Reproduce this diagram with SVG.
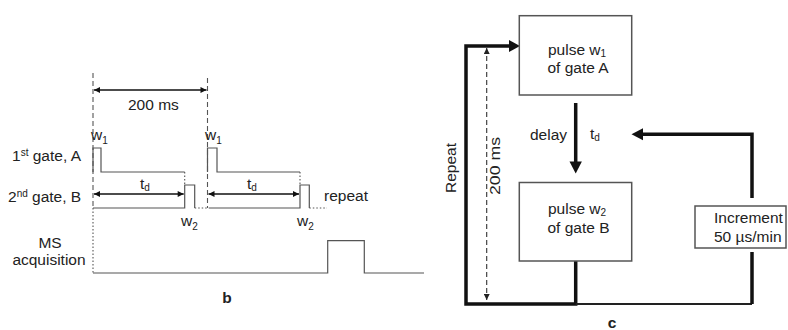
<svg xmlns="http://www.w3.org/2000/svg" width="788" height="330" viewBox="0 0 788 330">
<style>
text{font-family:"Liberation Sans",Arial,sans-serif;font-size:15.5px;fill:#222}
.sub{font-size:10px}
.sig{fill:none;stroke:#555;stroke-width:1.2}
.dash{fill:none;stroke:#555;stroke-width:1.1;stroke-dasharray:5,3}
.dot{fill:none;stroke:#555;stroke-width:1.1;stroke-dasharray:1.5,2}
.thick{fill:none;stroke:#111;stroke-width:3.5}
.box{fill:#fff;stroke:#555;stroke-width:1.5}
.ah{fill:#111}
</style>
<defs>
<marker id="sm" viewBox="0 0 10 10" refX="10" refY="5" markerWidth="7" markerHeight="6" markerUnits="userSpaceOnUse" orient="auto-start-reverse"><path d="M0,0 L10,5 L0,10 z" fill="#111"/></marker>
<marker id="dm" viewBox="0 0 10 10" refX="10" refY="5" markerWidth="7" markerHeight="6" markerUnits="userSpaceOnUse" orient="auto-start-reverse"><path d="M0,0 L10,5 L0,10 z" fill="#222"/></marker>
</defs>

<!-- Panel b: timing diagram -->
<g id="timing">
  <path class="dash" d="M93,73 V208"/>
  <path class="dot" d="M93,208 V273"/>
  <path class="dash" d="M207.5,78 V208"/>
  <path class="dot" d="M184.7,172 V185 M300,172 V185"/>
  <line x1="94" y1="90" x2="206.5" y2="90" stroke="#111" stroke-width="1.5" marker-start="url(#sm)" marker-end="url(#sm)"/>
  <text x="128" y="110" font-size="13.5">200 ms</text>
  <text x="91" y="140">w<tspan class="sub" dy="4">1</tspan></text>
  <text x="205" y="140">w<tspan class="sub" dy="4">1</tspan></text>
  <text x="12" y="161">1<tspan font-size="10" dy="-5">st</tspan><tspan dy="5"> gate, A</tspan></text>
  <text x="8" y="202">2<tspan font-size="10" dy="-5">nd</tspan><tspan dy="5"> gate, B</tspan></text>
  <text x="50" y="248" text-anchor="middle">MS</text>
  <text x="49" y="265" text-anchor="middle">acquisition</text>
  <path class="sig" d="M93,172 V148 H101 V172 H184.7"/>
  <path class="sig" d="M207.5,172 V148 H217 V172 H300"/>
  <path class="sig" d="M93,208 H184.7 V185 H194.7 V208"/>
  <path class="dot" d="M194.7,208 H210"/>
  <path class="sig" d="M210,208 H300 V185 H309.3 V208"/>
  <path class="dot" d="M309.3,208 H327"/>
  <path class="sig" d="M93,273 H327.7 V240.7 H364.3 V273 H424"/>
  <line x1="94" y1="194" x2="183.7" y2="194" stroke="#111" stroke-width="1.5" marker-start="url(#sm)" marker-end="url(#sm)"/>
  <line x1="208.5" y1="194" x2="299" y2="194" stroke="#111" stroke-width="1.5" marker-start="url(#sm)" marker-end="url(#sm)"/>
  <text x="140" y="189">t<tspan class="sub" dy="2">d</tspan></text>
  <text x="247" y="189">t<tspan class="sub" dy="2">d</tspan></text>
  <text x="181" y="226">w<tspan class="sub" dy="4">2</tspan></text>
  <text x="297" y="226">w<tspan class="sub" dy="4">2</tspan></text>
  <text x="324" y="201">repeat</text>
  <text x="227" y="303" font-size="18" font-weight="bold" text-anchor="middle">b</text>
</g>

<!-- Panel c: flow diagram -->
<g id="connectors">
  <path class="thick" d="M575.7,261 V304 H466 V46 H510"/>
  <polygon class="ah" points="509,40 520,46 509,52"/>
  <path fill="none" stroke="#222" stroke-width="1.8" d="M575.7,304 H752"/>
  <path class="thick" d="M752,304 V252"/>
  <path class="thick" d="M752,198 V134.3 H642"/>
  <polygon class="ah" points="643,128.3 631.5,134.3 643,140.3"/>
  <path class="thick" stroke-width="4" d="M575.7,103 V163"/>
  <polygon class="ah" points="569.5,161.5 581.9,161.5 575.7,173.5"/>
  <line x1="486.7" y1="48" x2="486.7" y2="300" stroke="#333" stroke-width="1.1" stroke-dasharray="5,3" marker-start="url(#dm)" marker-end="url(#dm)"/>
</g>
<g id="nodeA">
  <rect class="box" x="519.3" y="15.7" width="112.4" height="79.3"/>
  <text x="548" y="55">pulse w<tspan class="sub" dy="2">1</tspan></text>
  <text x="547.5" y="73">of gate A</text>
</g>
<g id="nodeB">
  <rect class="box" x="519.3" y="182.5" width="112.4" height="78.5"/>
  <text x="548" y="214">pulse w<tspan class="sub" dy="2">2</tspan></text>
  <text x="547.5" y="233">of gate B</text>
</g>
<g id="increment">
  <rect class="box" x="695" y="206" width="91" height="42"/>
  <text x="714" y="223">Increment</text>
  <text x="714" y="242">50 µs/min</text>
</g>
<g id="labels">
  <text x="530" y="140">delay</text>
  <text x="590" y="139">t<tspan class="sub" dy="2">d</tspan></text>
  <text transform="translate(456,168) rotate(-90)" text-anchor="middle">Repeat</text>
  <text transform="translate(500,166) rotate(-90)" text-anchor="middle" textLength="58" lengthAdjust="spacingAndGlyphs">200 ms</text>
  <text x="612" y="328" font-size="17" font-weight="bold" text-anchor="middle">c</text>
</g>
</svg>
